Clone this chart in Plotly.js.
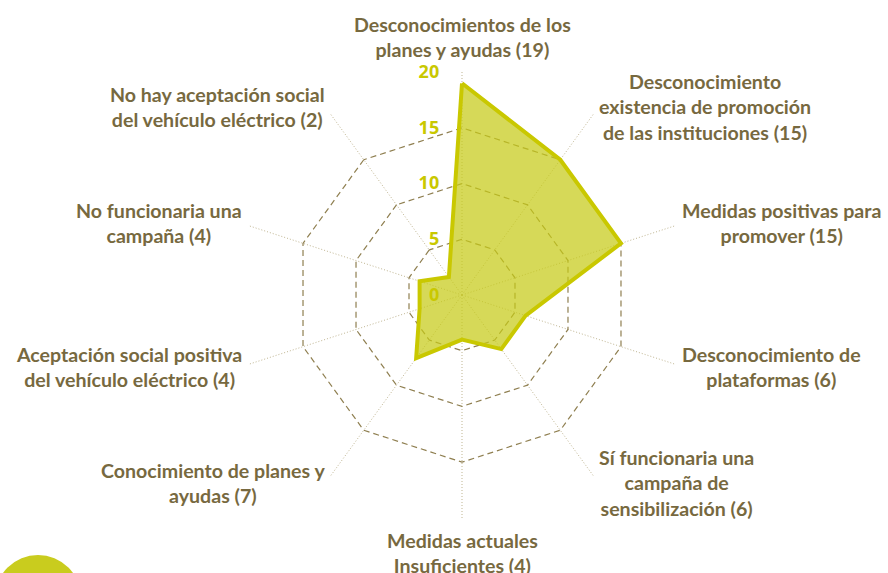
<!DOCTYPE html>
<html><head><meta charset="utf-8">
<script src="https://cdn.plot.ly/plotly-3.0.1.min.js"></script>
<style>html,body{margin:0;padding:0;background:#fff}#c{width:888px;height:573px}</style>
</head><body><div id="c"></div>
<script>
const categories = [
  "Desconocimientos de los<br>planes y ayudas (19)",
  "Desconocimiento<br>existencia de promoción<br>de las instituciones (15)",
  "Medidas positivas para<br>promover (15)",
  "Desconocimiento de<br>plataformas (6)",
  "Sí funcionaria una<br>campaña de<br>sensibilización (6)",
  "Medidas actuales<br>Insuficientes (4)",
  "Conocimiento de planes y<br>ayudas (7)",
  "Aceptación social positiva<br>del vehículo eléctrico (4)",
  "No funcionaria una<br>campaña (4)",
  "No hay aceptación social<br>del vehículo eléctrico (2)"
];
const values = [19, 15, 15, 6, 6, 4, 7, 4, 4, 2];
const radialTicks = [0, 5, 10, 15, 20];

const W = 888, H = 573;
const domX = [239 / W, 685 / W];
const domY = [55 / H, 501 / H];
const rotation = 90;
const labelPadX = 6;
const labelPadY = 9;

// category labels placed around the polar area, centre-aligned like the original
const cx = (domX[0] + domX[1]) / 2;
const cy = (domY[0] + domY[1]) / 2;
const Rpx = (domX[1] - domX[0]) * W / 2;
const annotations = categories.map((txt, i) => {
  const th = (rotation - 360 * i / categories.length) * Math.PI / 180;
  const c = Math.cos(th), s = Math.sin(th);
  return {
    xref: 'paper', yref: 'paper',
    x: cx + (Rpx * c + labelPadX * c) / W,
    y: cy + (Rpx * s + labelPadY * s) / H,
    xanchor: c > 0.2 ? 'left' : (c < -0.2 ? 'right' : 'center'),
    yanchor: s > 0.9 ? 'bottom' : (s < -0.9 ? 'top' : 'middle'),
    text: txt, showarrow: false, align: 'center',
    font: {family: 'Lato, "Open Sans", sans-serif', size: 19.6, color: '#77693f', weight: 'bold'}
  };
});

const trace = {
  type: 'scatterpolar',
  r: values.concat([values[0]]),
  theta: categories.concat([categories[0]]),
  mode: 'lines',
  fill: 'toself',
  fillcolor: 'rgba(198,202,24,0.72)',
  line: {color: '#c9c800', width: 4},
  hoverinfo: 'skip'
};

const layout = {
  width: W, height: H,
  margin: {l: 0, r: 0, t: 0, b: 0},
  paper_bgcolor: '#ffffff',
  showlegend: false,
  font: {family: '"Open Sans", sans-serif', size: 18, color: '#77693f'},
  polar: {
    domain: {x: domX, y: domY},
    bgcolor: 'rgba(0,0,0,0)',
    gridshape: 'linear',
    radialaxis: {
      range: [0, 20.01],
      tickvals: radialTicks,
      ticktext: radialTicks.map(String),
      angle: 90,
      tickangle: 90,
      side: 'counterclockwise',
      showline: false,
      ticks: 'outside',
      ticklen: 16,
      tickcolor: 'rgba(0,0,0,0)',
      gridcolor: '#8f7f50',
      griddash: '6px,4px',
      gridwidth: 1.2,
      tickfont: {family: '"Open Sans", sans-serif', size: 18, color: '#c9c800', weight: 'bold'}
    },
    angularaxis: {
      rotation: rotation,
      direction: 'clockwise',
      showline: false,
      showticklabels: false,
      ticks: '',
      gridcolor: '#bfb591',
      griddash: '1px,2px',
      gridwidth: 1
    }
  },
  annotations: annotations,
  shapes: [{
    type: 'circle', xref: 'paper', yref: 'paper',
    x0: -5 / W, x1: 81 / W, y0: -68 / H, y1: 18 / H,
    fillcolor: '#c9cc1e', line: {width: 0}, layer: 'below'
  }]
};

Plotly.newPlot('c', [trace], layout, {displayModeBar: false, staticPlot: true});
</script>
</body></html>
